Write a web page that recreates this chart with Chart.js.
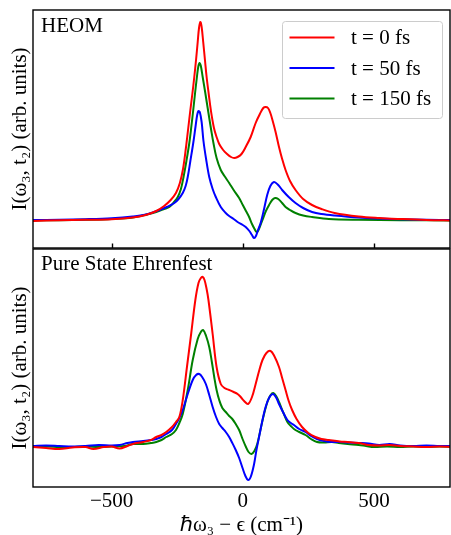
<!DOCTYPE html>
<html>
<head>
<meta charset="utf-8">
<script src="https://cdn.jsdelivr.net/npm/chart.js@4.4.1/dist/chart.umd.min.js"></script>
<style>
  html, body { margin: 0; padding: 0; background: #fff; }
  #wrap { position: relative; width: 451px; height: 535px; overflow: hidden; background: #fff; }
  #wrap canvas { position: absolute; left: 0; }
  #heom { top: 0; }
  #ehrenfest { top: 248px; }
</style>
</head>
<body>
<div id="wrap">
  <canvas id="heom" width="451" height="249"></canvas>
  <canvas id="ehrenfest" width="451" height="287"></canvas>
</div>
<script>
// x axis: hbar*omega_3 - epsilon in cm^-1
const omegaTicks = [-500, 0, 500];
const seriesLabels = ["t = 0 fs", "t = 50 fs", "t = 150 fs"];
const panelNames = ["HEOM", "Pure State Ehrenfest"];

// HEOM spectra
const heomW0 = [-800, -700, -600, -500, -420, -370, -330, -300, -275, -255, -240, -228, -217, -208, -200, -192, -185, -178, -172, -167, -162, -157, -151, -144, -138, -130, -122, -110, -100, -90, -75, -60, -45, -33, -20, -5, 11, 30, 49, 65, 78, 87, 96, 105, 113, 125, 138, 150, 163, 180, 201, 230, 264, 300, 350, 442, 520, 600, 700, 800];
const heomI0 = [0.0, 0.008, 0.012, 0.018, 0.035, 0.06, 0.10, 0.15, 0.21, 0.28, 0.38, 0.52, 0.73, 0.93, 1.11, 1.28, 1.44, 1.62, 1.79, 1.93, 1.99, 1.94, 1.79, 1.60, 1.44, 1.27, 1.11, 0.93, 0.84, 0.77, 0.71, 0.67, 0.64, 0.63, 0.64, 0.67, 0.74, 0.84, 0.98, 1.07, 1.13, 1.14, 1.13, 1.08, 1.01, 0.89, 0.74, 0.62, 0.51, 0.40, 0.31, 0.22, 0.16, 0.12, 0.08, 0.045, 0.03, 0.02, 0.01, 0.005];

const heomW50 = [-800, -700, -600, -500, -420, -370, -318, -290, -261, -245, -229, -218, -210, -200, -189, -180, -174, -169, -164, -157, -150, -140, -128, -115, -103, -84, -65, -52, -35, -20, 0, 11, 25, 35, 43, 50, 58, 68, 81, 93, 105, 119, 135, 150, 175, 201, 230, 264, 300, 350, 442, 520, 600, 700, 800];
const heomI50 = [0.01, 0.012, 0.018, 0.028, 0.045, 0.065, 0.11, 0.14, 0.18, 0.22, 0.28, 0.35, 0.44, 0.60, 0.78, 0.95, 1.06, 1.10, 1.09, 0.99, 0.80, 0.62, 0.44, 0.32, 0.24, 0.14, 0.08, 0.05, 0.02, -0.01, -0.04, -0.06, -0.10, -0.14, -0.17, -0.15, -0.09, -0.02, 0.12, 0.26, 0.35, 0.39, 0.36, 0.31, 0.24, 0.18, 0.13, 0.09, 0.07, 0.055, 0.035, 0.025, 0.018, 0.012, 0.01];

const heomW150 = [-800, -700, -600, -500, -420, -343, -300, -280, -262, -248, -236, -226, -215, -204, -196, -189, -182, -175, -170, -165, -160, -153, -143, -131, -120, -112, -100, -84, -70, -52, -35, -14, 0, 12, 24, 35, 45, 52, 58, 66, 75, 88, 100, 112, 123, 135, 150, 163, 180, 201, 230, 264, 328, 442, 600, 800];
const heomI150 = [0.005, 0.008, 0.012, 0.02, 0.035, 0.08, 0.12, 0.14, 0.19, 0.24, 0.32, 0.44, 0.60, 0.78, 0.95, 1.11, 1.28, 1.44, 1.54, 1.58, 1.55, 1.44, 1.28, 1.08, 0.90, 0.78, 0.63, 0.51, 0.45, 0.38, 0.31, 0.23, 0.16, 0.10, 0.04, -0.03, -0.08, -0.11, -0.10, -0.05, 0.01, 0.10, 0.16, 0.21, 0.23, 0.22, 0.18, 0.14, 0.11, 0.08, 0.055, 0.04, 0.02, 0.012, 0.008, 0.005];

// Pure state Ehrenfest spectra
const ehrW0 = [-800, -750, -700, -650, -600, -570, -530, -500, -470, -440, -419, -380, -350, -330, -310, -292, -270, -255, -242, -229, -213, -197, -181, -169, -160, -153, -146, -138, -131, -115, -100, -84, -70, -52, -35, -20, -8, 5, 20, 35, 49, 62, 75, 90, 106, 120, 138, 150, 163, 175, 188, 205, 226, 250, 277, 300, 328, 370, 400, 442, 480, 520, 560, 600, 650, 700, 750, 800];
const ehrI0 = [0.0, -0.01, -0.02, -0.005, 0.0, -0.02, 0.0, 0.005, -0.015, 0.01, 0.03, 0.05, 0.07, 0.10, 0.12, 0.15, 0.20, 0.25, 0.30, 0.47, 0.80, 1.13, 1.47, 1.64, 1.69, 1.70, 1.67, 1.58, 1.47, 1.13, 0.80, 0.63, 0.59, 0.57, 0.55, 0.53, 0.50, 0.46, 0.43, 0.50, 0.63, 0.76, 0.87, 0.94, 0.96, 0.91, 0.80, 0.69, 0.57, 0.46, 0.37, 0.28, 0.20, 0.14, 0.10, 0.08, 0.07, 0.055, 0.05, 0.04, 0.02, 0.015, 0.02, 0.01, 0.005, 0.0, 0.005, 0.0];

const ehrW50 = [-800, -750, -700, -650, -600, -550, -500, -470, -440, -419, -380, -350, -330, -310, -292, -270, -255, -242, -229, -210, -191, -178, -166, -155, -141, -128, -115, -102, -90, -78, -65, -52, -40, -27, -14, -1, 10, 20, 30, 43, 52, 62, 75, 87, 100, 115, 128, 138, 155, 170, 183, 195, 215, 239, 260, 283, 310, 340, 370, 400, 442, 480, 520, 560, 600, 650, 700, 750, 800];
const ehrI50 = [0.01, 0.015, 0.01, 0.005, 0.01, 0.02, 0.015, 0.02, 0.04, 0.05, 0.06, 0.07, 0.08, 0.10, 0.13, 0.17, 0.23, 0.29, 0.37, 0.53, 0.67, 0.72, 0.73, 0.70, 0.63, 0.52, 0.40, 0.30, 0.23, 0.19, 0.15, 0.10, 0.04, -0.03, -0.11, -0.21, -0.29, -0.33, -0.30, -0.17, -0.03, 0.10, 0.27, 0.40, 0.49, 0.53, 0.49, 0.43, 0.34, 0.27, 0.24, 0.22, 0.18, 0.15, 0.11, 0.08, 0.06, 0.05, 0.05, 0.045, 0.04, 0.035, 0.02, 0.03, 0.015, 0.01, 0.015, 0.01, 0.01];

const ehrW150 = [-800, -750, -700, -650, -600, -550, -500, -450, -419, -380, -350, -330, -310, -292, -270, -255, -242, -229, -210, -191, -172, -160, -151, -140, -128, -118, -109, -100, -90, -78, -65, -52, -40, -27, -14, -1, 12, 22, 33, 44, 55, 68, 81, 95, 106, 116, 127, 138, 155, 170, 183, 195, 215, 239, 260, 283, 310, 340, 366, 400, 442, 470, 500, 550, 600, 650, 700, 750, 800];
const ehrI150 = [0.0, 0.005, 0.0, 0.0, 0.005, 0.0, 0.005, 0.01, 0.03, 0.03, 0.04, 0.05, 0.07, 0.10, 0.13, 0.17, 0.24, 0.33, 0.57, 0.87, 1.08, 1.15, 1.17, 1.11, 1.00, 0.85, 0.70, 0.57, 0.47, 0.39, 0.35, 0.31, 0.28, 0.23, 0.17, 0.08, 0.0, -0.05, -0.07, -0.04, 0.03, 0.18, 0.33, 0.46, 0.52, 0.54, 0.51, 0.45, 0.34, 0.25, 0.21, 0.18, 0.15, 0.12, 0.08, 0.05, 0.045, 0.05, 0.04, 0.03, 0.02, 0.01, 0.0, 0.005, 0.0, 0.005, 0.0, 0.005, 0.0];

const colors = ["#ff0000", "#0000ff", "#008000"];
const serif = "'Liberation Serif', 'Times New Roman', serif";
const yTitle = "I(\u03c9\u2083, t\u2082) (arb. units)";
const xTitle = "\u210f\u03c9\u2083 \u2212 \u03f5 (cm\u207b\u00b9)";

function points(w, v) {
  return w.map((x, i) => ({ x: x, y: v[i] }));
}

function makeSets(pairs) {
  return pairs.map((p, i) => ({
    label: seriesLabels[i],
    data: points(p[0], p[1]),
    borderColor: colors[i],
    borderWidth: 2,
    pointRadius: 0,
    fill: false,
    tension: 0.35,
  }));
}

// frame, inward ticks, panel name and legend
const panelDecor = {
  id: "panelDecor",
  afterDraw(chart, args, opts) {
    const ctx = chart.ctx;
    const a = chart.chartArea;
    ctx.save();
    ctx.strokeStyle = "#000";
    ctx.lineWidth = 1.4;
    ctx.strokeRect(a.left, a.top, a.right - a.left, a.bottom - a.top);
    if (opts.innerTicks) {
      const xs = chart.scales.x;
      omegaTicks.forEach((t) => {
        const px = Math.round(xs.getPixelForValue(t)) + 0.5;
        ctx.beginPath();
        ctx.moveTo(px, a.bottom);
        ctx.lineTo(px, a.bottom - 4.5);
        ctx.stroke();
      });
    }
    ctx.fillStyle = "#000";
    ctx.font = "21px " + serif;
    ctx.textBaseline = "alphabetic";
    ctx.textAlign = "left";
    ctx.fillText(opts.name, a.left + 8, a.top + opts.nameDrop);

    if (opts.legend) {
      const bx = 282.5, by = 21.5, bw = 160, bh = 97;
      ctx.fillStyle = "rgba(255,255,255,0.8)";
      ctx.strokeStyle = "#cccccc";
      ctx.lineWidth = 1;
      ctx.beginPath();
      ctx.roundRect(bx, by, bw, bh, 3);
      ctx.fill();
      ctx.stroke();
      const rows = [37.5, 68, 98.5];
      chart.data.datasets.forEach((d, i) => {
        ctx.strokeStyle = d.borderColor;
        ctx.lineWidth = 2;
        ctx.beginPath();
        ctx.moveTo(289.5, rows[i]);
        ctx.lineTo(334.5, rows[i]);
        ctx.stroke();
        ctx.fillStyle = "#000";
        ctx.font = "21px " + serif;
        ctx.textBaseline = "middle";
        ctx.fillText(d.label, 351, rows[i] + 1);
      });
    }
    ctx.restore();
  },
};

function yAxis(min, max) {
  return {
    min: min,
    max: max,
    ticks: { display: false },
    grid: { display: false, drawTicks: false },
    border: { display: false },
    title: {
      display: true,
      text: yTitle,
      color: "#000",
      font: { family: serif, size: 21, lineHeight: 1 },
      padding: { top: 10, bottom: 0 },
    },
    afterFit: (s) => { s.width = 33; },
  };
}

new Chart(document.getElementById("heom"), {
  type: "line",
  data: {
    datasets: makeSets([[heomW0, heomI0], [heomW50, heomI50], [heomW150, heomI150]]),
  },
  options: {
    responsive: false,
    animation: false,
    layout: { padding: { top: 10, right: 1, bottom: 1, left: 0 } },
    plugins: {
      legend: { display: false },
      tooltip: { enabled: false },
      panelDecor: { name: panelNames[0], nameDrop: 22, legend: true, innerTicks: true },
    },
    scales: {
      x: { type: "linear", min: -800, max: 790, display: false },
      y: yAxis(-0.27, 2.11),
    },
  },
  plugins: [panelDecor],
});

new Chart(document.getElementById("ehrenfest"), {
  type: "line",
  data: {
    datasets: makeSets([[ehrW0, ehrI0], [ehrW50, ehrI50], [ehrW150, ehrI150]]),
  },
  options: {
    responsive: false,
    animation: false,
    layout: { padding: { top: 1, right: 1, bottom: 0, left: 0 } },
    plugins: {
      legend: { display: false },
      tooltip: { enabled: false },
      panelDecor: { name: panelNames[1], nameDrop: 20.5, legend: false, innerTicks: false },
    },
    scales: {
      x: {
        type: "linear",
        min: -800,
        max: 790,
        afterBuildTicks: (s) => { s.ticks = omegaTicks.map((v) => ({ value: v })); },
        ticks: {
          color: "#000",
          font: { family: serif, size: 21 },
          padding: 2,
          maxRotation: 0,
          callback: (v) => String(v).replace("-", "\u2212"),
        },
        grid: { display: false, drawTicks: false },
        border: { display: false },
        title: {
          display: true,
          text: xTitle,
          color: "#000",
          font: { family: serif, size: 21, lineHeight: 1 },
          padding: { top: 0, bottom: -1 },
        },
        afterFit: (s) => { s.height = 48; },
      },
      y: yAxis(-0.40, 1.98),
    },
  },
  plugins: [panelDecor],
});
</script>
</body>
</html>
